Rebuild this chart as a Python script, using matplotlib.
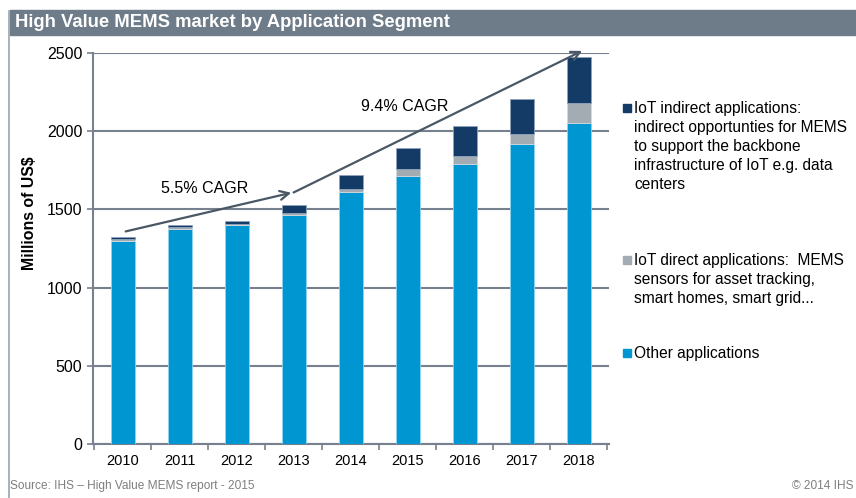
import matplotlib.pyplot as plt
import matplotlib.patches as mpatches
import numpy as np

plt.rcParams['font.family'] = ['Liberation Sans', 'DejaVu Sans']

# data (millions of US$)
years = ['2010', '2011', '2012', '2013', '2014', '2015', '2016', '2017', '2018']
other = [1297, 1374, 1399, 1461, 1610, 1715, 1790, 1920, 2050]
iot_direct = [15, 12, 10, 17, 18, 40, 50, 60, 130]
iot_indirect = [12, 12, 14, 49, 89, 138, 190, 225, 290]

c_other = '#0096D2'
c_direct = '#A3ACB2'
c_indirect = '#133B66'
grid_c = '#76808E'

fig = plt.figure(figsize=(8.56, 4.98), dpi=100)
ax = fig.add_axes([0.109, 0.108, 0.602, 0.786])

x = np.arange(len(years))
w = 0.41
ax.bar(x, other, w, color=c_other, edgecolor='#8FD3F0', linewidth=0.6, zorder=3)
b1 = np.array(other)
ax.bar(x, iot_direct, w, bottom=b1, color=c_direct, edgecolor='#D5DADE', linewidth=0.6, zorder=3)
b2 = b1 + np.array(iot_direct)
ax.bar(x, iot_indirect, w, bottom=b2, color=c_indirect, edgecolor='#8FA3BC', linewidth=0.6, zorder=3)

ax.set_xlim(-0.52, len(years) - 0.48)
ax.set_ylim(0, 2500)
ax.set_yticks(range(0, 2501, 500))
ax.set_xticks(x)
ax.set_xticklabels(years)
ax.set_xticks(np.arange(-0.5, len(years)), minor=True)
ax.tick_params(axis='x', which='major', length=0, pad=7, labelsize=10.5)
ax.tick_params(axis='x', which='minor', length=4, color=grid_c, width=1.2)
ax.tick_params(axis='y', length=4, color=grid_c, width=1.2, labelsize=11.5, pad=4)
ax.yaxis.grid(True, color=grid_c, linewidth=1.5, zorder=1)
for s in ['top', 'right']:
    ax.spines[s].set_visible(False)
for s in ['left', 'bottom']:
    ax.spines[s].set_color(grid_c)
    ax.spines[s].set_linewidth(1.5)
ax.set_ylabel('Millions of US$', fontsize=11.4, fontweight='bold')
ax.yaxis.set_label_coords(-0.110, 0.589)

# CAGR arrows
arrow_kw = dict(arrowstyle='->', color='#4A5866', lw=1.6, mutation_scale=16)
ax.annotate('', xy=(3.0, 1610), xytext=(0.0, 1355), arrowprops=arrow_kw, zorder=4)
ax.annotate('', xy=(8.1, 2520), xytext=(2.95, 1600), arrowprops=arrow_kw,
            annotation_clip=False, zorder=4)
ax.text(1.44, 1636, '5.5% CAGR', fontsize=11.5, ha='center', va='center')
ax.text(4.95, 2155, '9.4% CAGR', fontsize=11.5, ha='center', va='center')

# legend drawn as text beside the plot
W, H = 856, 498
legend_items = [
    (c_indirect, 108, 'IoT indirect applications:\nindirect opportunties for MEMS\n'
                      'to support the backbone\ninfrastructure of IoT e.g. data\ncenters'),
    (c_direct, 260, 'IoT direct applications:  MEMS\nsensors for asset tracking,\nsmart homes, smart grid...'),
    (c_other, 353, 'Other applications'),
]
for col, ypix, label in legend_items:
    fig.patches.append(mpatches.Rectangle((623 / W, 1 - (ypix + 4) / H), 8 / W, 8 / H,
                                          transform=fig.transFigure, color=col))
    fig.text(634 / W, 1 - (ypix - 7) / H, label, fontsize=11.2, va='top', ha='left',
             linespacing=1.33)

# title bar
fig.patches.append(mpatches.Rectangle((10 / W, 1 - 35 / H), 1 - 10 / W, 25 / H,
                                      transform=fig.transFigure, color='#6E7B89'))
fig.text(15 / W, 1 - 22.5 / H, 'High Value MEMS market by Application Segment',
         color='white', fontsize=13.3, fontweight='bold', va='center')
fig.lines.append(plt.Line2D([9 / W, 9 / W], [0, 1 - 11 / H], transform=fig.transFigure,
                            color='#9AA3AD', lw=1.2))

# footer
fig.text(10 / W, 1 - 486 / H, 'Source: IHS \u2013 High Value MEMS report - 2015',
         fontsize=8.6, color='#7F7F7F', va='center')
fig.text(853 / W, 1 - 486 / H, '\u00a9 2014 IHS', fontsize=8.6, color='#7F7F7F',
         va='center', ha='right')

fig.savefig('out.png', dpi=100)
